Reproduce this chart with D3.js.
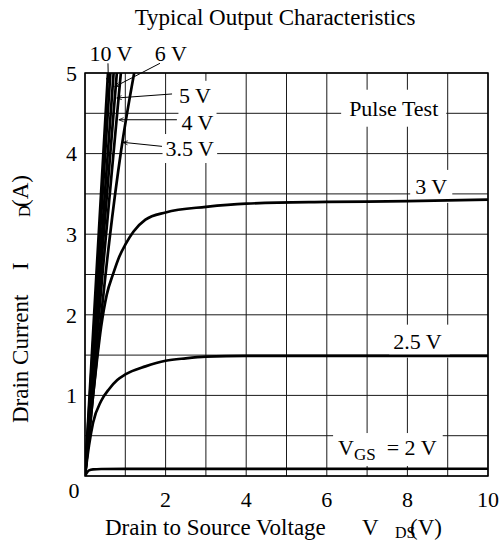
<!DOCTYPE html>
<html>
<head>
<meta charset="utf-8">
<script src="https://cdn.jsdelivr.net/npm/d3@7"></script>
<style>
  html, body { margin: 0; padding: 0; background: #fff; }
  svg { display: block; }
  text { font-family: "Liberation Serif", "Times New Roman", serif; fill: #000; }
</style>
</head>
<body>
<svg id="chart" width="502" height="541"></svg>
<script>
// ---------- data (Vds in V, Id in A) ----------
const xTickValues = [2, 4, 6, 8, 10];
const yTickValues = [1, 2, 3, 4, 5];

const vgs10V = [0, 0.3, 0.57];
const vgs10I = [0, 2.65, 5];
const vgs8V  = [0, 0.32, 0.63];
const vgs8I  = [0, 2.6, 5];
const vgs6V  = [0, 0.36, 0.71];
const vgs6I  = [0, 2.58, 5];
const vgs5V  = [0, 0.4, 0.79];
const vgs5I  = [0, 2.6, 5];
const vgs4V  = [0, 0.45, 0.89];
const vgs4I  = [0, 2.6, 5];
const vgs35V = [0, 0.3, 0.6, 0.9, 1.22];
const vgs35I = [0, 1.5, 2.9, 4.05, 5];
const vgs3V  = [0, 0.1, 0.2, 0.3, 0.4, 0.54, 0.7, 0.85, 1, 1.2, 1.5, 2, 3, 4, 6, 8, 10];
const vgs3I  = [0, 0.5, 1.0, 1.45, 1.85, 2.25, 2.51, 2.72, 2.87, 3.03, 3.18, 3.27, 3.34, 3.38, 3.40, 3.41, 3.43];
const vgs25V = [0, 0.1, 0.2, 0.4, 0.6, 0.8, 1, 1.5, 2, 2.5, 3, 4, 10];
const vgs25I = [0, 0.38, 0.66, 0.93, 1.08, 1.19, 1.26, 1.36, 1.43, 1.46, 1.48, 1.49, 1.49];
const vgs2V  = [0, 0.05, 0.1, 0.2, 0.4, 1, 10];
const vgs2I  = [0, 0.045, 0.07, 0.082, 0.087, 0.089, 0.09];

const curveList = [
  [vgs10V, vgs10I], [vgs8V, vgs8I], [vgs6V, vgs6I], [vgs5V, vgs5I], [vgs4V, vgs4I],
  [vgs35V, vgs35I], [vgs3V, vgs3I], [vgs25V, vgs25I], [vgs2V, vgs2I]
];

// ---------- layout ----------
const svg = d3.select("#chart");
const W = 502, H = 541;
const margin = { left: 85, right: 14, top: 73, bottom: 65 };
const x = d3.scaleLinear().domain([0, 10]).range([margin.left, W - margin.right]);
const y = d3.scaleLinear().domain([0, 5]).range([H - margin.bottom, margin.top]);

svg.append("rect").attr("width", W).attr("height", H).attr("fill", "#fff");

const defs = svg.append("defs");
defs.append("clipPath").attr("id", "plotclip")
  .append("rect").attr("x", x(0)).attr("y", y(5)).attr("width", x(10) - x(0)).attr("height", y(0) - y(5));

defs.append("marker")
  .attr("id", "arr").attr("viewBox", "-8 -5 10 10").attr("refX", 0).attr("refY", 0)
  .attr("markerWidth", 8).attr("markerHeight", 8).attr("markerUnits", "userSpaceOnUse")
  .attr("orient", "auto")
  .append("path").attr("d", "M-6,-2.5 L0,0 L-6,2.5").attr("fill", "none").attr("stroke", "#000").attr("stroke-width", 1);

// grid
const grid = svg.append("g");
grid.selectAll("line.v").data(d3.range(0, 11, 1)).join("line")
  .attr("x1", d => x(d)).attr("x2", d => x(d)).attr("y1", y(0)).attr("y2", y(5))
  .attr("stroke", "#1a1a1a").attr("stroke-width", 1);
grid.selectAll("line.h").data(d3.range(0, 5.01, 0.5)).join("line")
  .attr("x1", x(0)).attr("x2", x(10)).attr("y1", d => y(d)).attr("y2", d => y(d))
  .attr("stroke", "#1a1a1a").attr("stroke-width", 1);

// labels (positions in data units)
const boxLayer = svg.append("g");
const textLayer = svg.append("g");

function addLabel(parts, vx, iy, anchor, pad, fontSize) {
  const t = textLayer.append("text")
    .attr("x", x(vx)).attr("y", y(iy))
    .attr("text-anchor", anchor)
    .style("font-size", fontSize + "px");
  parts.forEach(p => {
    const ts = t.append("tspan").text(p.t);
    if (p.size) ts.style("font-size", p.size + "px");
    if (p.dy) ts.attr("dy", p.dy);
    if (p.dx) ts.attr("dx", p.dx);
  });
  if (pad) {
    const b = t.node().getBBox();
    boxLayer.append("rect")
      .attr("x", b.x - pad[0]).attr("y", b.y - pad[1])
      .attr("width", b.width + pad[0] + (pad[2] !== undefined ? pad[2] : pad[0]))
      .attr("height", b.height + 2 * pad[1])
      .attr("fill", "#fff");
  }
  return t;
}

// curve labels
addLabel([{ t: "Pulse Test" }], 7.66, 4.47, "middle", [8, 6], 22);
addLabel([{ t: "3 V" }], 8.59, 3.5, "middle", [5, 4], 22);
addLabel([{ t: "2.5 V" }], 8.25, 1.58, "middle", [4, 4, 8], 22);
addLabel([{ t: "V" }, { t: "GS", size: 17, dy: 5 }, { t: "= 2 V", dy: -5, dx: 11 }], 6.28, 0.26, "start", [5, 2, 6], 22);
addLabel([{ t: "5 V" }], 2.73, 4.63, "middle", [3, 2], 22);
addLabel([{ t: "4 V" }], 2.79, 4.29, "middle", [3, 2], 22);
addLabel([{ t: "3.5 V" }], 2.6, 3.97, "middle", [3, 2], 22);
addLabel([{ t: "10 V" }], 0.645, 5.15, "middle", null, 22);
addLabel([{ t: "6 V" }], 2.13, 5.15, "middle", null, 22);

// curves
const line = d3.line().x(d => x(d[0])).y(d => y(d[1])).curve(d3.curveMonotoneX);
svg.append("g").attr("clip-path", "url(#plotclip)")
  .selectAll("path").data(curveList).join("path")
  .attr("d", c => line(c[0].map((v, i) => [v, c[1][i]])))
  .attr("fill", "none").attr("stroke", "#000").attr("stroke-width", 2.7)
  .attr("stroke-linejoin", "round");

// frame
svg.append("rect").attr("x", x(0)).attr("y", y(5))
  .attr("width", x(10) - x(0)).attr("height", y(0) - y(5))
  .attr("fill", "none").attr("stroke", "#000").attr("stroke-width", 1.5);

// leaders (data units)
const leaderFrom = [[0.57, 5.12], [1.86, 5.12], [2.16, 4.74], [2.28, 4.42], [1.91, 4.09]];
const leaderTo   = [[0.58, 4.88], [0.74, 4.83], [0.79, 4.69], [0.84, 4.42], [0.94, 4.14]];
svg.append("g").selectAll("line").data(leaderFrom).join("line")
  .attr("x1", d => x(d[0])).attr("y1", d => y(d[1]))
  .attr("x2", (d, i) => x(leaderTo[i][0])).attr("y2", (d, i) => y(leaderTo[i][1]))
  .attr("stroke", "#000").attr("stroke-width", 1)
  .attr("marker-end", "url(#arr)");

// ticks
svg.append("g").selectAll("text").data(xTickValues).join("text")
  .attr("x", d => x(d)).attr("y", 507).attr("text-anchor", "middle")
  .style("font-size", "22px").text(d => d);
svg.append("g").selectAll("text").data(yTickValues).join("text")
  .attr("x", 77).attr("y", d => y(d)).attr("dy", "0.35em").attr("text-anchor", "end")
  .style("font-size", "22px").text(d => d);
svg.append("text").attr("x", 74).attr("y", 498).attr("text-anchor", "middle")
  .style("font-size", "22px").text("0");

// title
svg.append("text").attr("x", 275).attr("y", 25).attr("text-anchor", "middle")
  .style("font-size", "23px").text("Typical Output Characteristics");

// x axis title
const xt = svg.append("g").style("font-size", "23px");
xt.append("text").attr("x", 105).attr("y", 535).text("Drain to Source Voltage");
xt.append("text").attr("x", 362).attr("y", 535).text("V");
xt.append("text").attr("x", 395).attr("y", 538).style("font-size", "16px").text("DS");
xt.append("text").attr("x", 410).attr("y", 535).text("(V)");

// y axis title
const yt = svg.append("g").attr("transform", "translate(28,423) rotate(-90)").style("font-size", "23px");
yt.append("text").attr("x", 0).attr("y", 0).text("Drain Current");
yt.append("text").attr("x", 153).attr("y", 0).text("I");
yt.append("text").attr("x", 206).attr("y", 2).style("font-size", "16px").text("D");
yt.append("text").attr("x", 216).attr("y", 0).text("(A)");
</script>
</body>
</html>
